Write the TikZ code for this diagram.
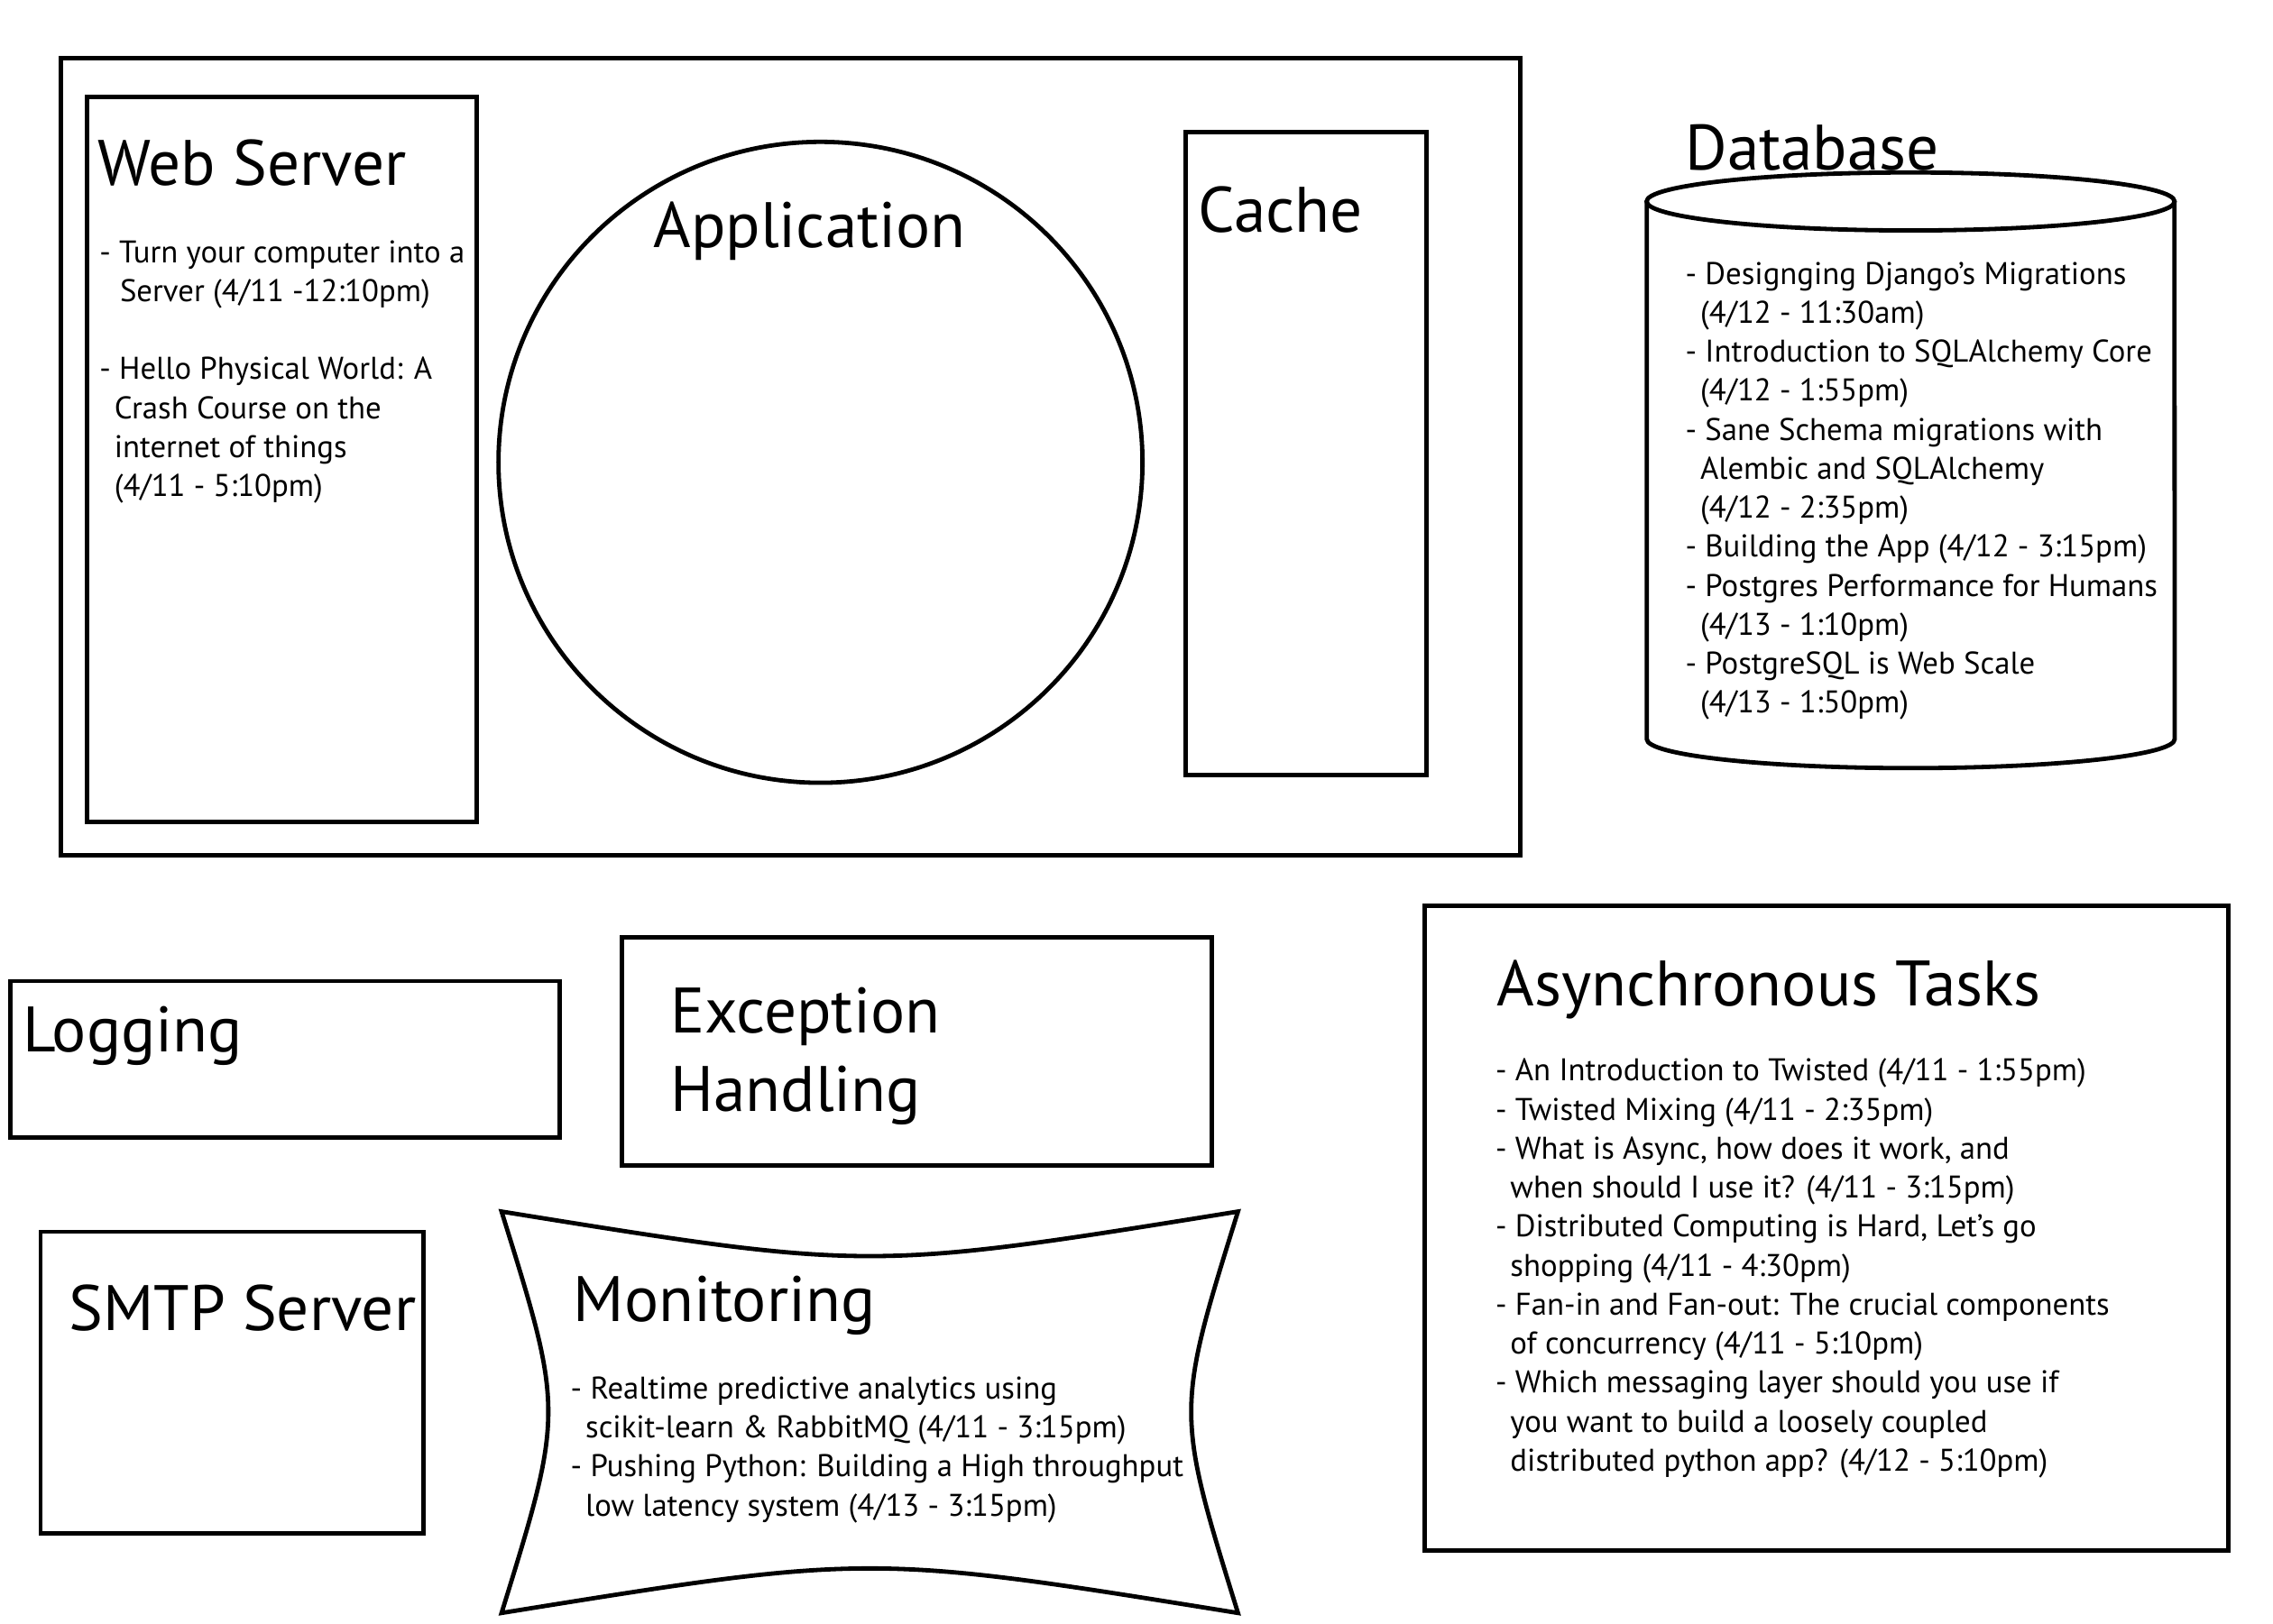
\documentclass[tikz,border=0pt]{standalone}
\usepackage{fontspec}
\setmainfont{PT Sans}
\newcommand{\cont}{\hspace*{2.9pt}}
\begin{document}
\begin{tikzpicture}
  [x=0.01cm, y=-0.01cm,
    box/.style={%
      draw, line width=0.85pt
    },
    title/.style={%
      anchor=base west, inner sep=0pt, align=left,
      font=\fontsize{12.6}{15.4}\selectfont
    },
    talks/.style={%
      anchor=base west, inner sep=0pt, align=left,
      font=\fontsize{6.15}{7.65}\selectfont
    },
  ]
  \useasboundingbox (0,0) rectangle (1568,1120);

  % the server and what runs on it (talks: base = last line)
  \draw[box] (42,40) rectangle (1049,590);
  \draw[box] (60,67) rectangle (329,567);
  \node[title] (web) at (67,128) {Web Server};
  \node[talks] (webtalks) at (68,342.5)
    {- Turn your computer into a\\
     \hspace*{4pt}Server (4/11 -12:10pm)\\[7.65pt]
     - Hello Physical World: A\\
     \cont Crash Course on the\\
     \cont internet of things\\
     \cont (4/11 - 5:10pm)};

  \draw[box] (566,319) ellipse [x radius=2.22cm, y radius=2.21cm];
  \node[title] (app) at (450,171) {Application};

  \draw[box] (818,91) rectangle (984,535);
  \node[title] (cache) at (826,160) {Cache};

  % database
  \draw[box] (1136,139) -- (1136,510)
    arc [start angle=180, end angle=360, x radius=1.82cm, y radius=0.2cm]
    -- (1500,139);
  \draw[box] (1318,139) ellipse [x radius=1.82cm, y radius=0.2cm];
  \node[title] (db) at (1162,117) {Database};
  \node[talks] (dbtalks) at (1162,492)
    {- Designging Django’s Migrations\\
     \cont (4/12 - 11:30am)\\
     - Introduction to SQLAlchemy Core\\
     \cont (4/12 - 1:55pm)\\
     - Sane Schema migrations with\\
     \cont Alembic and SQLAlchemy\\
     \cont (4/12 - 2:35pm)\\
     - Building the App (4/12 - 3:15pm)\\
     - Postgres Performance for Humans\\
     \cont (4/13 - 1:10pm)\\
     - PostgreSQL is Web Scale\\
     \cont (4/13 - 1:50pm)};

  % services round it
  \draw[box] (7,677) rectangle (386,785);
  \node[title] (logging) at (15,726) {Logging};

  \draw[box] (429,647) rectangle (836,804);
  \node[title] (except) at (462,767) {Exception\\Handling};

  \draw[box] (28,850) rectangle (292,1058);
  \node[title] (smtp) at (47,918) {SMTP Server};

  \draw[box] (346,836) .. controls (600,877) .. (854,836)
    .. controls (811,974) .. (854,1113)
    .. controls (600,1072) .. (346,1113)
    .. controls (389,974) .. cycle;
  \node[title] (monitor) at (395,912) {Monitoring};
  \node[talks] (montalks) at (393,1046)
    {- Realtime predictive analytics using\\
     \cont scikit-learn \& RabbitMQ (4/11 - 3:15pm)\\
     - Pushing Python: Building a High throughput\\
     \cont low latency system (4/13 - 3:15pm)};

  \draw[box] (983,625) rectangle (1537,1070);
  \node[title] (async) at (1032,694) {Asynchronous Tasks};
  \node[talks] (asynctalks) at (1031,1015)
    {- An Introduction to Twisted (4/11 - 1:55pm)\\
     - Twisted Mixing (4/11 - 2:35pm)\\
     - What is Async, how does it work, and\\
     \cont when should I use it? (4/11 - 3:15pm)\\
     - Distributed Computing is Hard, Let’s go\\
     \cont shopping (4/11 - 4:30pm)\\
     - Fan-in and Fan-out: The crucial components\\
     \cont of concurrency (4/11 - 5:10pm)\\
     - Which messaging layer should you use if\\
     \cont you want to build a loosely coupled\\
     \cont distributed python app? (4/12 - 5:10pm)};
\end{tikzpicture}
\end{document}
